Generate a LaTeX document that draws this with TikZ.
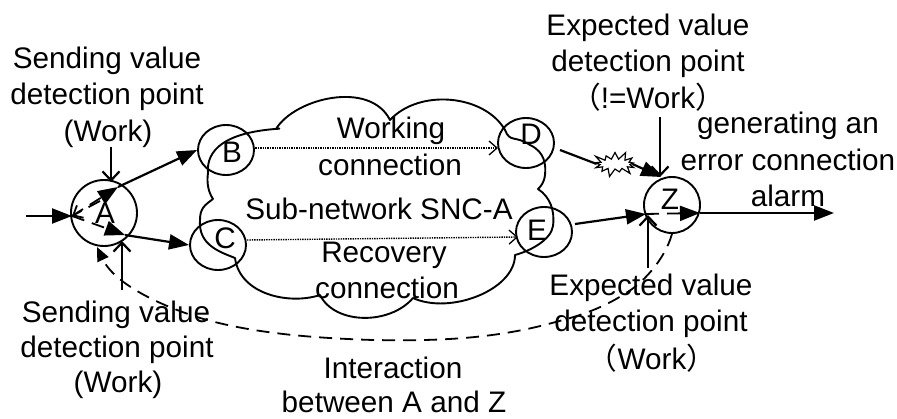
\documentclass[tikz,border=0pt]{standalone}
\usepackage{fontspec}
\setmainfont{Liberation Sans}
\newfontfamily\cjk{Noto Sans CJK SC}
\usetikzlibrary{arrows.meta,shapes.geometric,shapes.symbols}
\tikzset{
 lbl/.style={font=\fontsize{29.7}{36}\selectfont,align=center,inner sep=0pt,text=black},
 nd/.style={draw=black,ellipse,line width=1.9pt,minimum width=56pt,minimum height=50pt,inner sep=0pt},
 rnd/.style={draw=black,circle,line width=1.9pt,inner sep=0pt},
 wire/.style={line width=2.2pt,draw=black},
 solidarrow/.style={wire,-{Triangle[length=20pt,width=15pt]}},
 barbarrow/.style={wire,-{Straight Barb[length=9pt,width=17pt]}},
 dots/.style={line width=1.4pt,densely dotted,-{Straight Barb[length=8pt,width=14pt,line width=1.3pt]}},
 dasharrow/.style={line width=1.8pt,dash pattern=on 13pt off 8pt,-{Triangle[length=20pt,width=15pt]}},
 dashbarb/.style={line width=1.8pt,dash pattern=on 13pt off 8pt,-{Straight Barb[length=8pt,width=14pt]}},
 curvearrow/.style={line width=1.8pt,dash pattern=on 13pt off 8pt,-{Triangle[length=14pt,width=12pt]}},
 cloudline/.style={line width=1.9pt,draw=black,line join=round},
}
\begin{document}
\begin{tikzpicture}[x=1pt,y=-1pt]
\useasboundingbox (0,0) rectangle (897,419);
% cloud
\draw[cloudline] (208,173)
 .. controls (206,150) and (225,133) .. (275,129)
 .. controls (285,128) and (276,129) .. (276,129)
 .. controls (295,98) and (370,80) .. (390,120)
 .. controls (420,88) and (485,95) .. (505,130)
 .. controls (510,143) and (515,135) .. (530,145)
 .. controls (545,152) and (546,165) .. (545,175)
 .. controls (544,183) and (541,186) .. (538,189)
 .. controls (550,197) and (555,210) .. (553,226)
 .. controls (551,240) and (530,251) .. (515,255)
 .. controls (515,290) and (450,315) .. (413,298)
 .. controls (390,325) and (335,325) .. (320,295)
 .. controls (290,305) and (240,295) .. (235,258)
 .. controls (220,252) and (198,245) .. (200,220)
 .. controls (200,208) and (205,205) .. (213,199)
 .. controls (207,190) and (207,180) .. (208,173);
% nodes
\node[rnd,minimum size=66pt] (A) at (104,213) {};
\node[nd] (B) at (226,150) {};
\node[nd] (C) at (218,245) {};
\node[nd] (D) at (526,143) {};
\node[nd] (E) at (544,232) {};
\node[rnd,minimum size=56pt] (Z) at (672,205) {};
\node[lbl] (la) at (105,213) {A};
\node[lbl] (lb) at (232,152) {B};
\node[lbl] (lc) at (225,238) {C};
\node[lbl] (ld) at (531,134) {D};
\node[lbl] (le) at (537,230) {E};
\node[lbl] (lz) at (670,199) {Z};
% texts
\node[lbl] (t1) at (107,61) {Sending value};
\node[lbl] (t2) at (107,97) {detection point};
\node[lbl] (t3) at (108,134) {(Work)};
\node[lbl] (t4) at (116,315) {Sending value};
\node[lbl] (t5) at (117,350) {detection point};
\node[lbl] (t6) at (118,385) {(Work)};
\node[lbl] (t7) at (648,28) {Expected value};
\node[lbl] (t8) at (648,64) {detection point};
\node[lbl] (t9) at (648,97) {{\cjk（}!=Work{\cjk）}};
\node[lbl] (t10) at (788,126) {generating an};
\node[lbl] (t11) at (788,160) {error connection};
\node[lbl] (t12) at (788,196) {alarm};
\node[lbl] (t13) at (651,288) {Expected value};
\node[lbl] (t14) at (651,324) {detection point};
\node[lbl] (t15) at (652,358) {{\cjk（}Work{\cjk）}};
\node[lbl] (t16) at (393,368) {Interaction};
\node[lbl] (t17) at (394,402) {between A and Z};
\node[lbl] (w1) at (391,131) {Working};
\node[lbl] (w2) at (390,165) {connection};
\node[lbl] (s) at (379,209) {Sub-network SNC-A};
\node[lbl] (r1) at (384,255) {Recovery};
\node[lbl] (r2) at (387,288) {connection};
% free ends
\coordinate (in) at (26,216);
\coordinate (out) at (834,213);
\coordinate (Azl) at (72,216);
\coordinate (At) at (118,187);
\coordinate (Ab) at (125,235);
\coordinate (Amid) at (100,201);
\coordinate (Zl) at (646,214);
\coordinate (Zr) at (700,213);
\coordinate (Do) at (560,150);
\coordinate (Eo) at (575,224);
\coordinate (pa1) at (111,147);
\coordinate (pa2) at (111,182);
\coordinate (pb1) at (122,290);
\coordinate (pb2) at (122,241);
\coordinate (pc1) at (660,117);
\coordinate (pc2) at (660,177);
\coordinate (pd1) at (648,268);
\coordinate (pd2) at (648,215);
\coordinate (Dz) at (661,177);
\coordinate (Bo) at (253,148);
\coordinate (Di) at (498,148);
\coordinate (Co) at (247,240);
\coordinate (Ei) at (518,237);
% burst
\node[starburst,draw=black,fill=white,line width=1.2pt,minimum width=48pt,minimum height=28pt,starburst points=13,starburst point height=9pt,inner sep=0pt] (burst) at (615,164) {};
% connectors
\draw[solidarrow] (in) -- (Azl);
\draw[solidarrow] (At) -- (B.west);
\draw[solidarrow] (Ab) -- (C.west);
\draw[wire] (Do) -- (burst.west);
\draw[solidarrow] (burst.east) -- (Dz);
\draw[solidarrow] (Eo) -- (Zl);
\draw[solidarrow] (Zr) -- (out);
\draw[barbarrow] (pa1) -- (pa2);
\draw[barbarrow] (pb1) -- (pb2);
\draw[barbarrow] (pc1) -- (pc2);
\draw[barbarrow] (pd1) -- (pd2);
\draw[dots] (Bo) -- (Di);
\draw[dots] (Co) -- (Ei);
% interior dashed arrows
\draw[dasharrow] (Azl) -- (At);
\draw[dasharrow] (Azl) -- (Ab);
\draw[dashbarb] (Amid) -- (Azl);
\draw[dasharrow] (Zl) -- (Zr);
% interaction
\draw[curvearrow] (Z.south) .. controls (664,262) and (640,285) .. (626,293)
  .. controls (600,310) and (575,317) .. (552,323)
  .. controls (490,340) and (430,341) .. (373,340)
  .. controls (310,338) and (255,333) .. (207,320)
  .. controls (165,308) and (115,285) .. (97,247);
\end{tikzpicture}
\end{document}
